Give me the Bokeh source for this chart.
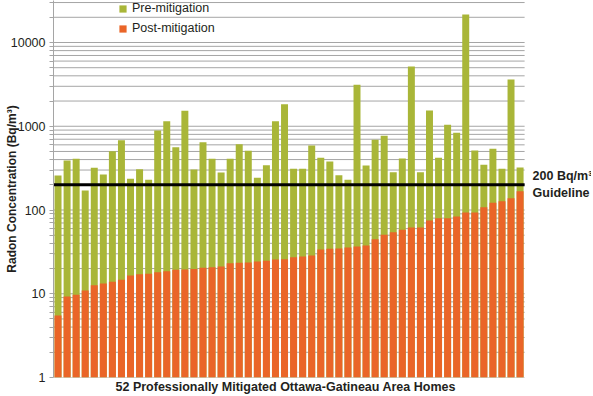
from bokeh.plotting import figure
from bokeh.models import (Label, Legend, LegendItem, FixedTicker, Range1d,
                          ColumnDataSource, PrintfTickFormatter, Title)
from bokeh.embed import file_html
from bokeh.resources import INLINE

# ---- data ----
homes = list(range(1, 53))
pre_mitigation = [258, 390, 409, 171, 319, 265, 504, 681, 236, 307,
                  229, 889, 1148, 562, 1528, 305, 645, 409, 280, 409,
                  611, 509, 242, 343, 1148, 1834, 310, 310, 589, 420,
                  379, 260, 229, 3126, 340, 689, 769, 283, 412, 5165,
                  283, 1542, 420, 1041, 835, 21600, 513, 346, 538, 310,
                  3614, 322]
post_mitigation = [5.5, 9.3, 9.7, 10.9, 12.6, 13.3, 13.9, 14.7, 16.5, 17.1,
                   17.3, 18.1, 18.6, 19.3, 19.5, 19.8, 20.4, 20.7, 21.1, 23.2,
                   23.4, 23.6, 24.3, 24.7, 25.6, 25.9, 27.3, 27.9, 28.6, 33.8,
                   34.4, 34.7, 35.7, 36.6, 37.7, 44.8, 50.6, 54.4, 58.0, 61.8,
                   61.8, 75, 79.9, 79.9, 83.6, 93.3, 93.3, 108, 122, 127,
                   138, 168]
guideline = 200
major_ticks = [1, 10, 100, 1000, 10000]
minor_ticks = [m * t for t in major_ticks for m in range(2, 10)]

# ---- style / layout ----
GREEN = "#a9b638"
ORANGE = "#ea6528"
TEXT = "#231f20"
GRID = "#a5a5a5"
FONT = "Liberation Sans"
FS = "12.5px"

LEFT = 53
FRAME_W = 538
FRAME_H = 377
BOTTOM = 19
PITCH = 9.06                      # px per home
PX_PER_DECADE = 83.75
Y_TOP = 10 ** (FRAME_H / PX_PER_DECADE)

n = len(homes)
x_lo = 0.5
x_hi = n + 0.5

src = ColumnDataSource(dict(x=homes, pre=pre_mitigation, post=post_mitigation,
                            base=[1] * n))
grid_vals = sorted(major_ticks + minor_ticks)
grid_src = ColumnDataSource(dict(y=grid_vals, x0=[x_lo] * len(grid_vals),
                                 x1=[x_hi] * len(grid_vals)))

p = figure(frame_width=FRAME_W, frame_height=FRAME_H, y_axis_type="log",
           x_range=Range1d(x_lo, x_lo + FRAME_W / PITCH),
           y_range=Range1d(1, Y_TOP),
           output_backend="svg", toolbar_location=None,
           min_border_left=LEFT, min_border_right=0, min_border_top=0,
           min_border_bottom=BOTTOM, background_fill_color="white",
           border_fill_color="white")
p.outline_line_color = None
p.xgrid.visible = False
p.ygrid.visible = False
p.xaxis.visible = False

# gridlines limited to the bar area
p.segment(x0="x0", x1="x1", y0="y", y1="y", source=grid_src,
          line_color=GRID, line_width=1)

r_pre = p.vbar(x="x", top="pre", bottom="base", width=0.77, source=src,
               fill_color=GREEN, line_color=None)
r_post = p.vbar(x="x", top="post", bottom="base", width=0.77, source=src,
                fill_color=ORANGE, line_color=None)

# guideline
p.segment(x0=[x_lo], x1=[x_hi], y0=[guideline], y1=[guideline],
          line_color="black", line_width=3)

p.add_layout(Label(x=x_hi, y=guideline, x_offset=8, y_offset=9,
                   text="200 Bq/m³", text_font=FONT, text_font_size=FS,
                   text_font_style="bold", text_color=TEXT,
                   text_baseline="middle", text_align="left"))
p.add_layout(Label(x=x_hi, y=guideline, x_offset=8, y_offset=-8,
                   text="Guideline", text_font=FONT, text_font_size=FS,
                   text_font_style="bold", text_color=TEXT,
                   text_baseline="middle", text_align="left"))

# x axis title
p.add_layout(Title(text="52 Professionally Mitigated Ottawa-Gatineau Area Homes",
                   align="left", offset=62, standoff=0,
                   text_font=FONT, text_font_size=FS, text_font_style="bold",
                   text_color=TEXT), "below")

legend = Legend(items=[LegendItem(label="Pre-mitigation", renderers=[r_pre]),
                       LegendItem(label="Post-mitigation", renderers=[r_post])],
                location=(65, FRAME_H - 35), padding=0, margin=0, spacing=6,
                glyph_width=9, glyph_height=9, label_height=14,
                label_standoff=5, label_text_font=FONT,
                label_text_font_size=FS, label_text_color=TEXT,
                border_line_color=None, background_fill_alpha=0)
p.add_layout(legend)

# y axis
p.yaxis.ticker = FixedTicker(ticks=major_ticks, minor_ticks=minor_ticks)
p.yaxis.formatter = PrintfTickFormatter(format="%d")
p.yaxis.axis_label = "Radon Concentration (Bq/m³)"
p.yaxis.axis_label_text_font = FONT
p.yaxis.axis_label_text_font_size = "12px"
p.yaxis.axis_label_text_font_style = "bold"
p.yaxis.axis_label_text_color = TEXT
p.yaxis.axis_label_standoff = -11
p.yaxis.major_label_text_font = FONT
p.yaxis.major_label_text_font_size = FS
p.yaxis.major_label_text_color = TEXT
p.yaxis.major_label_standoff = 4
p.yaxis.axis_line_color = GRID
p.yaxis.major_tick_line_color = GRID
p.yaxis.minor_tick_line_color = GRID
p.yaxis.major_tick_in = 0
p.yaxis.major_tick_out = 4
p.yaxis.minor_tick_in = 0
p.yaxis.minor_tick_out = 4

open("out.html", "w").write(file_html(p, INLINE))
